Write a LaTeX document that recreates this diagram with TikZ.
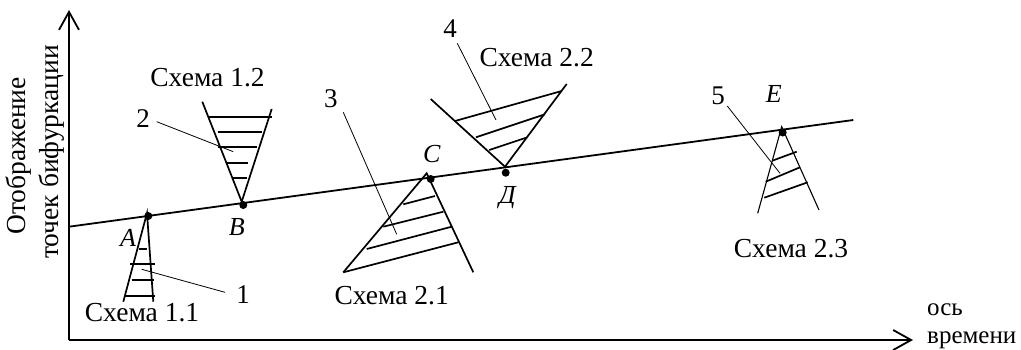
\documentclass[tikz,border=0pt]{standalone}
\usepackage{fontspec}
\setmainfont{Liberation Serif}
\usetikzlibrary{arrows.meta}
\begin{document}
\begin{tikzpicture}[x=1pt,y=-1pt,
  txt/.style={inner sep=0pt,font=\fontsize{27.5}{32}\selectfont},
  num/.style={inner sep=0pt,font=\fontsize{27}{32}\selectfont},
  small/.style={inner sep=0pt,font=\fontsize{25}{30}\selectfont},
  ltr/.style={inner sep=0pt,font=\fontsize{26}{30}\selectfont\itshape},
  axisline/.style={line width=1.8pt,-{Straight Barb[length=18pt,width=20pt,line width=1.8pt]}},
  thick line/.style={line width=1.8pt},
  leg/.style={line width=1.7pt},
  hatch/.style={line width=1.7pt},
  leader/.style={line width=0.8pt},
  pt dot/.style={circle,fill=black,inner sep=0pt,minimum size=8pt}]
\useasboundingbox (0,0) rectangle (1021,349);

% axes
\coordinate (O) at (69,340);
\coordinate (Ytop) at (69,10);
\coordinate (Xend) at (913,340);
\draw[axisline] (O) -- (Ytop);
\draw[axisline,line width=2.2pt] (O) -- (Xend);

% main line
\coordinate (L0) at (69,226.7);
\coordinate (L1) at (853.3,120);
\draw[thick line] (L0) -- (L1);

% points
\node[pt dot] (A) at (148.3,216) {};
\node[pt dot] (B) at (243.3,205) {};
\node[pt dot] (C) at (430.7,179) {};
\node[pt dot] (D) at (505.7,172.7) {};
\node[pt dot] (E) at (782.7,132.5) {};

% Schema 1.1
\coordinate (a0) at (147,213);
\coordinate (a1) at (123.3,301.7);
\coordinate (a2) at (153.3,301.7);
\draw[leg] (a1) -- (a0) -- (a2);
\draw[hatch] (139.3,249.3) -- (146.7,249.3);
\draw[hatch] (130,264.3) -- (155,264.3);
\draw[hatch] (131.7,280) -- (154.3,280);
\draw[hatch] (125,295.7) -- (155,295.7);

% Schema 1.2
\coordinate (b0) at (241.7,201.7);
\coordinate (b1) at (202.3,101.7);
\coordinate (b2) at (271.7,109);
\draw[leg] (b1) -- (b0) -- (b2);
\draw[hatch] (209,117.3) -- (271.7,117.3);
\draw[hatch] (217.7,132.3) -- (261.7,132.3);
\draw[hatch] (217.7,147.3) -- (256.7,147.3);
\draw[hatch] (227.3,162.7) -- (248.3,162.7);
\draw[hatch] (233.3,177.7) -- (247.3,177.7);

% Schema 2.1
\coordinate (c0) at (426.7,173.3);
\coordinate (c1) at (343.3,272.3);
\coordinate (c2) at (473.3,272.3);
\draw[leg] (c1) -- (c0) -- (c2);
\draw[hatch] (403.3,204.3) -- (435,196);
\draw[hatch] (383.3,226.7) -- (443.3,211.7);
\draw[hatch] (366.7,249) -- (451.7,226.7);
\draw[hatch] (c1) -- (458.3,242.3);

% Schema 2.2
\coordinate (d0) at (505,166.7);
\coordinate (d1) at (430.7,99);
\coordinate (d2) at (566.7,84);
\draw[leg] (d1) -- (d0) -- (d2);
\draw[hatch] (455,121) -- (561.7,91);
\draw[hatch] (476,137.3) -- (545,114.3);
\draw[hatch] (489.3,150) -- (527.3,137.3);

% Schema 2.3
\coordinate (e0) at (781.7,126.7);
\coordinate (e1) at (757.7,213.3);
\coordinate (e2) at (819,210);
\draw[line width=1.1pt] (e1) -- (e0) -- (e2);
\draw[hatch] (772.3,160.7) -- (796.7,151.7);
\draw[hatch] (765.7,181.7) -- (800,167.3);
\draw[hatch] (764.3,197.7) -- (807.7,182.3);

% point labels
\node[ltr] (lA) at (128,237.5) {A};
\node[ltr] (lB) at (236.7,226.7) {B};
\node[ltr] (lC) at (431.7,154) {C};
\node[ltr,anchor=base] (lD) at (507.5,203.5) {Д};
\node[ltr] (lE) at (773.7,93.8) {E};

% number labels and leaders
\node[num] (n1) at (243,295) {1};
\node[num] (n2) at (143,119) {2};
\node[num] (n3) at (330.8,98.3) {3};
\node[num] (n4) at (450,29) {4};
\node[num] (n5) at (718,95.3) {5};
\coordinate (t1) at (141.7,269.3);
\coordinate (t2) at (233.3,151.7);
\coordinate (t3) at (396.7,234.3);
\coordinate (t4) at (496,120);
\coordinate (t5) at (780,173.3);
\draw[leader] (225,292.3) -- (t1);
\draw[leader] (156.7,121.7) -- (t2);
\draw[leader] (343.3,112.3) -- (t3);
\draw[leader] (457.3,43.3) -- (t4);
\draw[leader] (727.3,106) -- (t5);

% schema captions
\node[txt] (s11) at (142,312.5) {Схема 1.1};
\node[txt] (s12) at (207.5,78) {Схема 1.2};
\node[txt] (s21) at (391.7,296) {Схема 2.1};
\node[txt] (s22) at (536.7,57.5) {Схема 2.2};
\node[txt] (s23) at (791,249) {Схема 2.3};

% axis labels
\node[small,anchor=base west] (xl1) at (927,315) {ось};
\node[small,anchor=base west] (xl2) at (927,343) {времени};
\node[txt,rotate=90,anchor=base] (yl1) at (25,156) {Отображение};
\node[txt,rotate=90,anchor=base] (yl2) at (58,152) {точек бифуркации};
\end{tikzpicture}
\end{document}
